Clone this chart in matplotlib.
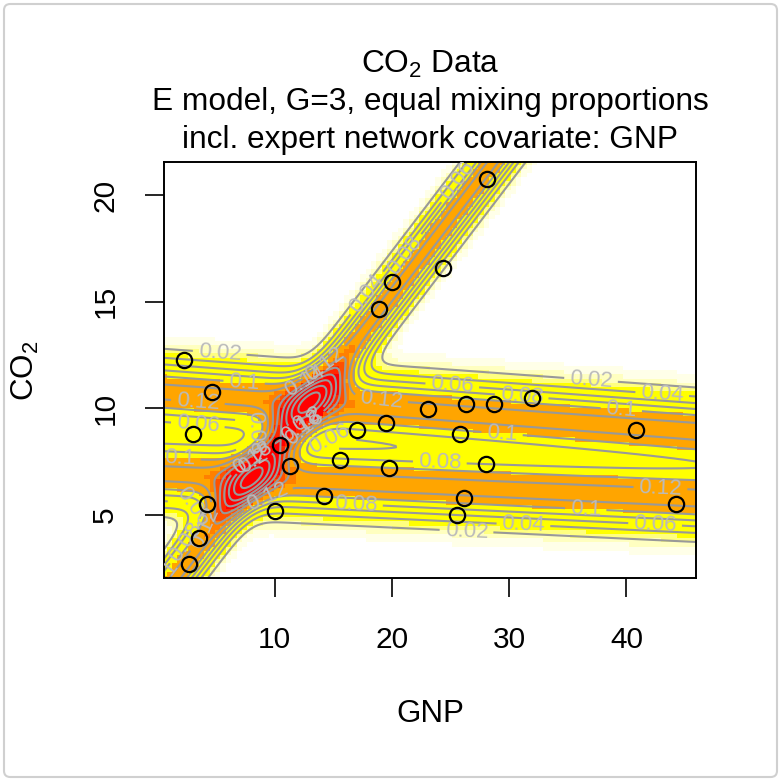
import matplotlib
matplotlib.use("Agg")
import matplotlib.pyplot as plt
import numpy as np
from matplotlib.colors import ListedColormap, BoundaryNorm
from matplotlib.patches import FancyBboxPatch

plt.rcParams['font.family'] = 'Liberation Sans'
plt.rcParams['mathtext.fontset'] = 'custom'
plt.rcParams['mathtext.rm'] = 'Liberation Sans'

# CO2 per capita against GNP per capita, 28 countries
gnp = [2.28, 4.65, 3.08, 4.22, 3.56, 2.74, 10.47, 11.32, 10.04, 14.22,
       15.58, 17.01, 19.48, 19.76, 23.11, 26.33, 28.74, 31.98, 25.81, 28.0,
       26.18, 25.58, 40.82, 44.23, 19.99, 18.91, 24.39, 28.09]
co2 = [12.27, 10.78, 8.79, 5.52, 3.91, 2.71, 8.28, 7.30, 5.20, 5.91,
       7.58, 8.99, 9.30, 7.21, 9.97, 10.19, 10.19, 10.47, 8.79, 7.39,
       5.81, 5.0, 8.99, 5.50, 15.94, 14.66, 16.57, 20.74]

# expert network: one regression line per component, common sd (E model)
intercept = [0.95, 10.8, 6.95]
slope = [0.72, -0.04, -0.026]
tau = [1/3, 1/3, 1/3]
sigma = 1.05

levels = np.arange(0.02, 0.25, 0.02)
fill_bounds = [0, 0.005, 0.012, 0.02, 0.03, 0.1, 0.13, 0.145, 0.16, 0.175, 1]
fill_cols = ['white', '#FFFFE8', '#FFFFC0', '#FFFF80', '#FFFF00',
             '#FFA500', '#FF8000', '#FF5000', '#FF2800', '#FF0000']

xlim = (0.58, 45.93)
ylim = (2.05, 21.53)


def density(X, Y):
    z = np.zeros_like(X)
    for a, b, t in zip(intercept, slope, tau):
        mu = a + b * X
        z += t * np.exp(-0.5 * ((Y - mu) / sigma) ** 2) / (np.sqrt(2 * np.pi) * sigma)
    return z


fig = plt.figure(figsize=(7.81, 7.80), dpi=100)
ax = fig.add_axes([0.2100, 0.2590, 0.6812, 0.5327])

# coarse raster for the fill, finer grid for the contour lines
xc = np.linspace(*xlim, 100)
yc = np.linspace(*ylim, 100)
Xc, Yc = np.meshgrid(xc, yc)
ax.pcolormesh(Xc, Yc, density(Xc, Yc), shading='nearest',
              cmap=ListedColormap(fill_cols),
              norm=BoundaryNorm(fill_bounds, len(fill_cols)), zorder=0)

xf = np.linspace(*xlim, 300)
yf = np.linspace(*ylim, 300)
Xf, Yf = np.meshgrid(xf, yf)
cs = ax.contour(Xf, Yf, density(Xf, Yf), levels=levels,
                colors='#999999', linewidths=1.5, zorder=1)
ax.clabel(cs, fmt=lambda v: f"{v:g}", fontsize=16, colors='#BBBBBB', inline=True)

ax.plot(gnp, co2, 'o', mfc='none', mec='black', ms=11, mew=1.6, zorder=3)

ax.set_xlim(*xlim)
ax.set_ylim(*ylim)
ax.set_xticks([10, 20, 30, 40])
ax.set_yticks([5, 10, 15, 20])
ax.tick_params(axis='both', length=13.7, width=1.2, labelsize=21.5)
ax.tick_params(axis='x', pad=21)
ax.tick_params(axis='y', pad=18.5)
for lab in ax.get_yticklabels():
    lab.set_rotation(90)
    lab.set_va('center')
for sp in ax.spines.values():
    sp.set_linewidth(1.4)

fig.text(430 / 781, 1 - 714 / 780, "GNP", ha='center', va='center', fontsize=22.5)
fig.text(25 / 781, 1 - 371 / 780, r"CO$_{\rm 2}$", ha='center', va='center',
         rotation=90, fontsize=22.5)

fig.text(430 / 781, 1 - 73 / 780, r"CO$_{\rm 2}$ Data", ha='center', va='baseline', fontsize=22.8)
fig.text(430 / 781, 1 - 110 / 780, "E model, G=3, equal mixing proportions",
         ha='center', va='baseline', fontsize=22.8)
fig.text(430 / 781, 1 - 148 / 780, "incl. expert network covariate: GNP",
         ha='center', va='baseline', fontsize=22.8)

fig.patches.append(FancyBboxPatch((4 / 781, 3 / 780), 773 / 781, 773 / 780,
                                  boxstyle="round,pad=0,rounding_size=0.008",
                                  transform=fig.transFigure, fill=False,
                                  edgecolor='#D0D0D0', linewidth=1.5))

fig.savefig('out.png', dpi=100)
